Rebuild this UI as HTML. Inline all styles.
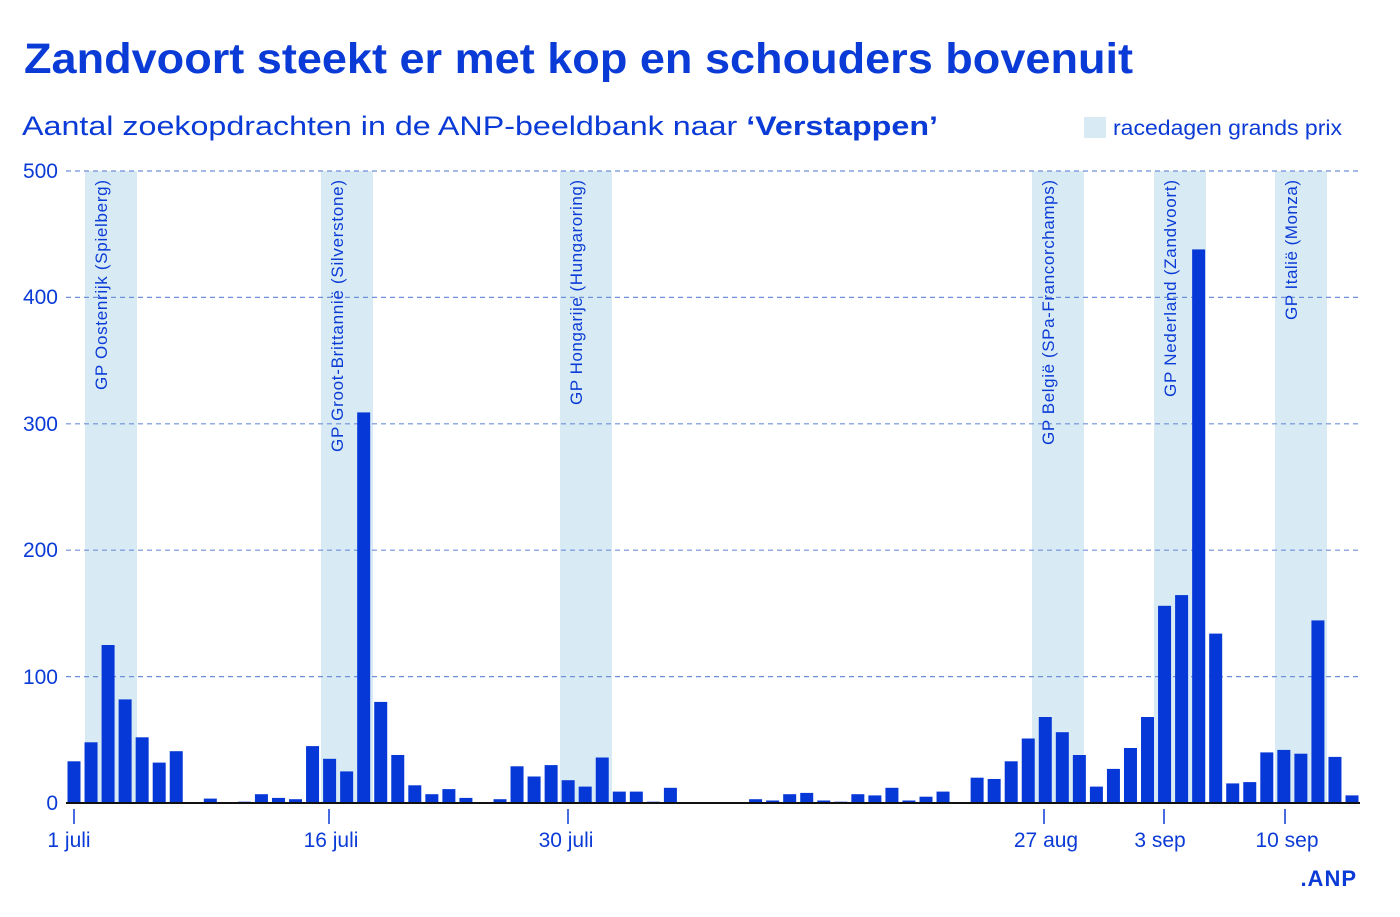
<!DOCTYPE html>
<html><head><meta charset="utf-8"><style>
body{margin:0;background:#fff;}
svg{display:block;font-family:"Liberation Sans",sans-serif;}
</style></head><body>
<svg width="1400" height="917" viewBox="0 0 1400 917" xmlns="http://www.w3.org/2000/svg">
<text x="24" y="73" font-size="43" font-weight="bold" fill="#0b3bd6" textLength="1109" lengthAdjust="spacingAndGlyphs">Zandvoort steekt er met kop en schouders bovenuit</text>
<text x="22" y="135" font-size="27" fill="#0b3bd6" textLength="916" lengthAdjust="spacingAndGlyphs">Aantal zoekopdrachten in de ANP-beeldbank naar <tspan font-weight="bold">‘Verstappen’</tspan></text>
<rect x="1084" y="117" width="22" height="21" fill="#d8ebf4"/>
<text x="1113" y="135" font-size="21" fill="#0b3bd6" textLength="229" lengthAdjust="spacingAndGlyphs">racedagen grands prix</text>
<g fill="#d8ebf4">
<rect x="85" y="171" width="52" height="632"/>
<rect x="321" y="171" width="52" height="632"/>
<rect x="560" y="171" width="52" height="632"/>
<rect x="1032" y="171" width="52" height="632"/>
<rect x="1154" y="171" width="52" height="632"/>
<rect x="1275" y="171" width="52" height="632"/>
</g>
<g stroke="#6f8fd8" stroke-width="1.2" stroke-dasharray="5,4">
<line x1="66" x2="1362" y1="171" y2="171"/>
<line x1="66" x2="1362" y1="297.4" y2="297.4"/>
<line x1="66" x2="1362" y1="423.8" y2="423.8"/>
<line x1="66" x2="1362" y1="550.2" y2="550.2"/>
<line x1="66" x2="1362" y1="676.6" y2="676.6"/>
</g>
<g font-size="21" fill="#0b3bd6" text-anchor="end">
<text x="58" y="178">500</text>
<text x="58" y="304">400</text>
<text x="58" y="431">300</text>
<text x="58" y="557">200</text>
<text x="58" y="684">100</text>
<text x="58" y="810">0</text>
</g>
<g font-size="17" fill="#0b3bd6" text-anchor="end" lengthAdjust="spacingAndGlyphs">
<text transform="translate(107,180) rotate(-90)" textLength="210">GP Oostenrijk (Spielberg)</text>
<text transform="translate(343,180) rotate(-90)" textLength="272">GP Groot-Brittannië (Silverstone)</text>
<text transform="translate(582,180) rotate(-90)" textLength="225">GP Hongarije (Hungaroring)</text>
<text transform="translate(1054,180) rotate(-90)" textLength="265">GP België (SPa-Francorchamps)</text>
<text transform="translate(1176,180) rotate(-90)" textLength="217">GP Nederland (Zandvoort)</text>
<text transform="translate(1297,180) rotate(-90)" textLength="140">GP Italië (Monza)</text>
</g>
<g fill="#0638d8">
<rect x="67.5" y="761.3" width="13" height="41.7"/>
<rect x="84.54" y="742.3" width="13" height="60.7"/>
<rect x="101.58" y="645" width="13" height="158"/>
<rect x="118.62" y="699.4" width="13" height="103.6"/>
<rect x="135.66" y="737.3" width="13" height="65.7"/>
<rect x="152.7" y="762.6" width="13" height="40.4"/>
<rect x="169.74" y="751.2" width="13" height="51.8"/>
<rect x="203.82" y="798.6" width="13" height="4.4"/>
<rect x="237.9" y="801.7" width="13" height="1.3"/>
<rect x="254.94" y="794.2" width="13" height="8.8"/>
<rect x="271.98" y="797.9" width="13" height="5.1"/>
<rect x="289.02" y="799.2" width="13" height="3.8"/>
<rect x="306.06" y="746.1" width="13" height="56.9"/>
<rect x="323.1" y="758.8" width="13" height="44.2"/>
<rect x="340.14" y="771.4" width="13" height="31.6"/>
<rect x="357.18" y="412.4" width="13" height="390.6"/>
<rect x="374.22" y="701.9" width="13" height="101.1"/>
<rect x="391.26" y="755" width="13" height="48"/>
<rect x="408.3" y="785.3" width="13" height="17.7"/>
<rect x="425.34" y="794.2" width="13" height="8.8"/>
<rect x="442.38" y="789.1" width="13" height="13.9"/>
<rect x="459.42" y="797.9" width="13" height="5.1"/>
<rect x="493.5" y="799.2" width="13" height="3.8"/>
<rect x="510.54" y="766.3" width="13" height="36.7"/>
<rect x="527.58" y="776.5" width="13" height="26.5"/>
<rect x="544.62" y="765.1" width="13" height="37.9"/>
<rect x="561.66" y="780.2" width="13" height="22.8"/>
<rect x="578.7" y="786.6" width="13" height="16.4"/>
<rect x="595.74" y="757.5" width="13" height="45.5"/>
<rect x="612.78" y="791.6" width="13" height="11.4"/>
<rect x="629.82" y="791.6" width="13" height="11.4"/>
<rect x="646.86" y="801.7" width="13" height="1.3"/>
<rect x="663.9" y="787.8" width="13" height="15.2"/>
<rect x="749.1" y="799.2" width="13" height="3.8"/>
<rect x="766.14" y="800.5" width="13" height="2.5"/>
<rect x="783.18" y="794.2" width="13" height="8.8"/>
<rect x="800.22" y="792.9" width="13" height="10.1"/>
<rect x="817.26" y="800.5" width="13" height="2.5"/>
<rect x="834.3" y="801.7" width="13" height="1.3"/>
<rect x="851.34" y="794.2" width="13" height="8.8"/>
<rect x="868.38" y="795.4" width="13" height="7.6"/>
<rect x="885.42" y="787.8" width="13" height="15.2"/>
<rect x="902.46" y="800.5" width="13" height="2.5"/>
<rect x="919.5" y="796.7" width="13" height="6.3"/>
<rect x="936.54" y="791.6" width="13" height="11.4"/>
<rect x="970.62" y="777.7" width="13" height="25.3"/>
<rect x="987.66" y="779" width="13" height="24"/>
<rect x="1004.7" y="761.3" width="13" height="41.7"/>
<rect x="1021.74" y="738.5" width="13" height="64.5"/>
<rect x="1038.78" y="717" width="13" height="86"/>
<rect x="1055.82" y="732.2" width="13" height="70.8"/>
<rect x="1072.86" y="755" width="13" height="48"/>
<rect x="1089.9" y="786.6" width="13" height="16.4"/>
<rect x="1106.94" y="768.9" width="13" height="34.1"/>
<rect x="1123.98" y="748" width="13" height="55"/>
<rect x="1141.02" y="717" width="13" height="86"/>
<rect x="1158.06" y="605.8" width="13" height="197.2"/>
<rect x="1175.1" y="595.1" width="13" height="207.9"/>
<rect x="1192.14" y="249.4" width="13" height="553.6"/>
<rect x="1209.18" y="633.6" width="13" height="169.4"/>
<rect x="1226.22" y="783.4" width="13" height="19.6"/>
<rect x="1243.26" y="782.1" width="13" height="20.9"/>
<rect x="1260.3" y="752.4" width="13" height="50.6"/>
<rect x="1277.34" y="749.9" width="13" height="53.1"/>
<rect x="1294.38" y="753.7" width="13" height="49.3"/>
<rect x="1311.42" y="620.4" width="13" height="182.6"/>
<rect x="1328.46" y="756.9" width="13" height="46.1"/>
<rect x="1345.5" y="795.4" width="13" height="7.6"/>
</g>
<line x1="66" x2="1360" y1="803" y2="803" stroke="#111" stroke-width="2"/>
<g stroke="#0b3bd6" stroke-width="1.5">
<line x1="74" x2="74" y1="809" y2="824"/>
<line x1="329" x2="329" y1="809" y2="824"/>
<line x1="568" x2="568" y1="809" y2="824"/>
<line x1="1044" x2="1044" y1="809" y2="824"/>
<line x1="1164" x2="1164" y1="809" y2="824"/>
<line x1="1285" x2="1285" y1="809" y2="824"/>
</g>
<g font-size="21" fill="#0b3bd6" text-anchor="middle">
<text x="69" y="847">1 juli</text>
<text x="331" y="847">16 juli</text>
<text x="566" y="847">30 juli</text>
<text x="1046" y="847">27 aug</text>
<text x="1160" y="847">3 sep</text>
<text x="1287" y="847">10 sep</text>
</g>
<text x="1357" y="886" font-size="22" font-weight="bold" fill="#0b3bd6" text-anchor="end" letter-spacing="1">.ANP</text>
</svg>
</body></html>
